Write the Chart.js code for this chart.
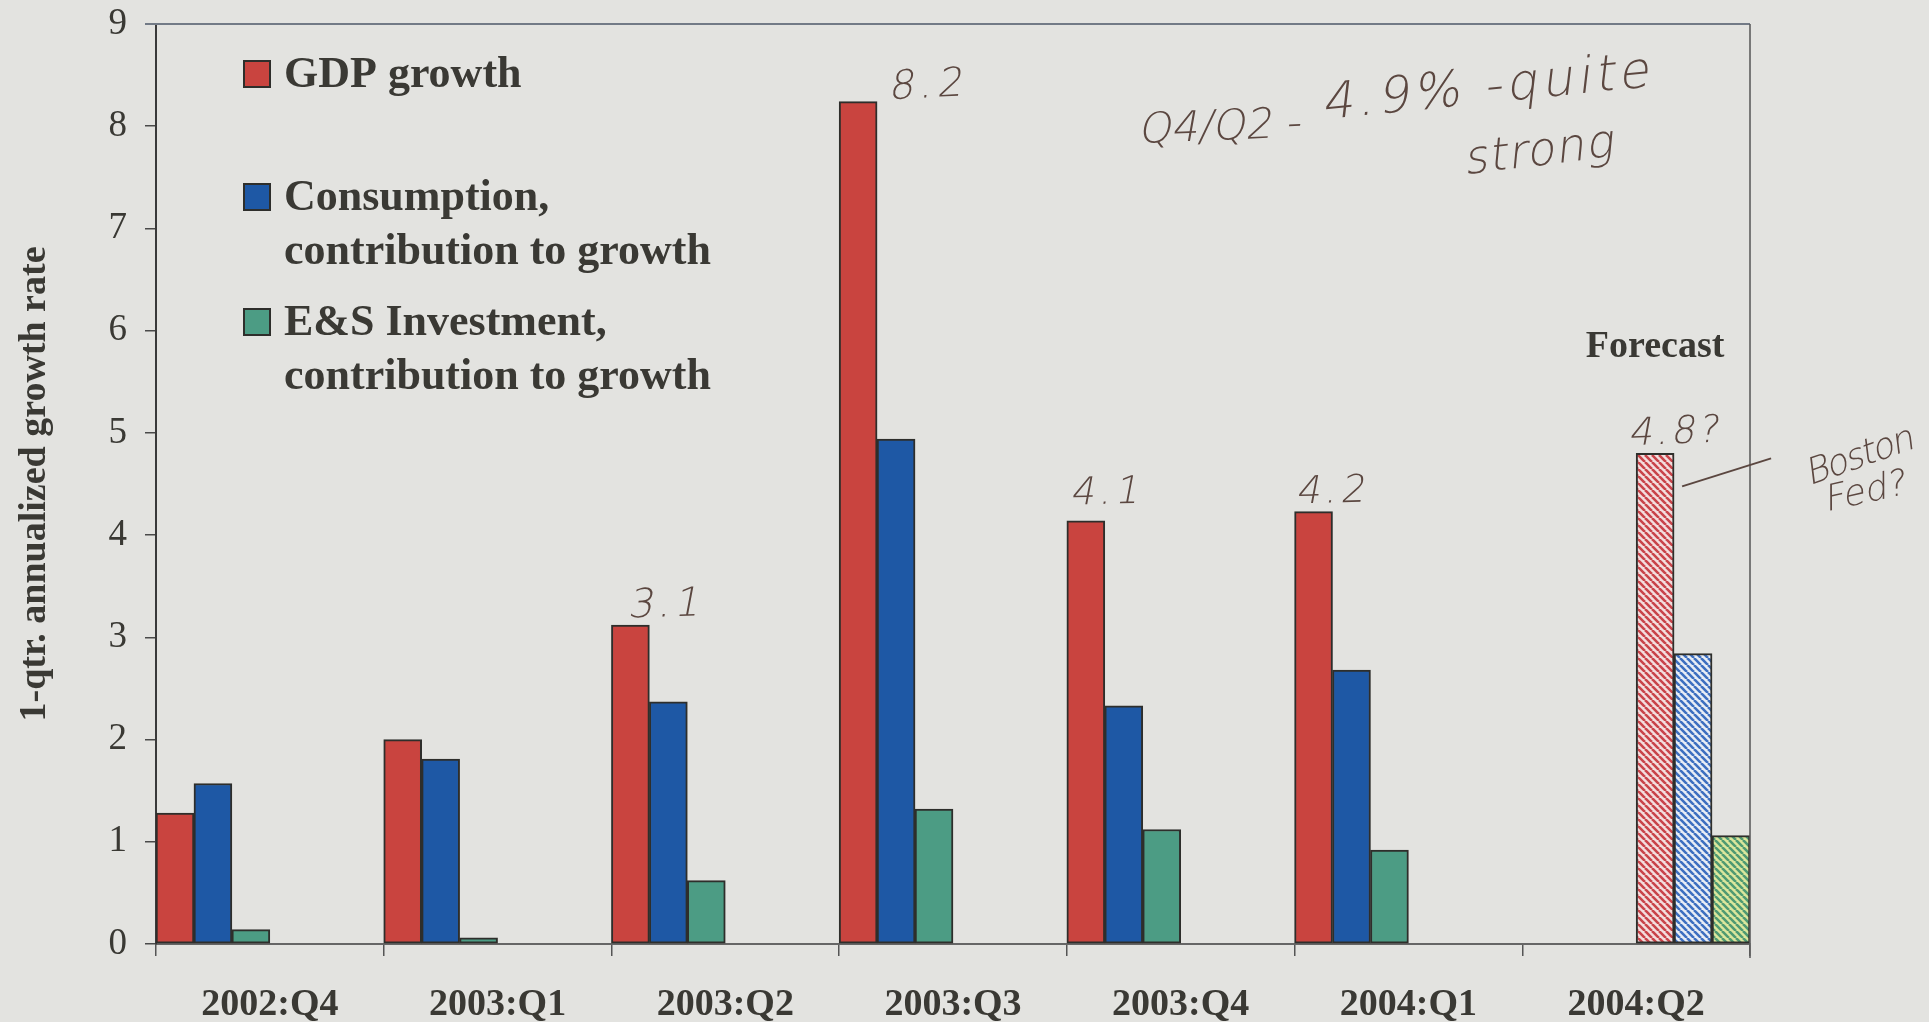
<!DOCTYPE html>
<html>
<head>
<meta charset="utf-8">
<script src="https://cdn.jsdelivr.net/npm/chart.js@4.4.1/dist/chart.umd.min.js"></script>
<style>
  html, body { margin: 0; padding: 0; background: #e3e3e0; overflow: hidden; }
  #wrap { width: 1929px; height: 1022px; position: relative; }
</style>
</head>
<body>
<div id="wrap"><canvas id="c"></canvas></div>
<script>
// ---- data ----
const categories = ['2002:Q4', '2003:Q1', '2003:Q2', '2003:Q3', '2003:Q4', '2004:Q1', '2004:Q2'];
const gdpGrowth               = [1.28, 2.00, 3.12, 8.24, 4.14, 4.23, null];
const consumptionContribution = [1.57, 1.81, 2.37, 4.94, 2.33, 2.68, null];
const investmentContribution  = [0.14, 0.06, 0.62, 1.32, 1.12, 0.92, null];
const gdpForecast             = [null, null, null, null, null, null, 4.80];
const consumptionForecast     = [null, null, null, null, null, null, 2.84];
const investmentForecast      = [null, null, null, null, null, null, 1.06];
const seriesNames = ['GDP growth', 'Consumption, contribution to growth', 'E&S Investment, contribution to growth'];
const yTickValues = [0, 1, 2, 3, 4, 5, 6, 7, 8, 9];
const yAxisTitle = '1-qtr. annualized growth rate';
const forecastLabel = 'Forecast';

// ---- styles ----
const INK = '#3a3934';
const EDGE = '#2e2e2b';
const RED = '#c9443f', BLUE = '#1e58a5', GREEN = '#4c9c84';
const PEN = '#5b4740';
const SERIF = '"Liberation Serif", "Times New Roman", serif';
const HAND = '"DejaVu Sans", sans-serif';

function hatch(bg, fg) {
  const s = 7;
  const c = document.createElement('canvas');
  c.width = s; c.height = s;
  const g = c.getContext('2d');
  g.fillStyle = bg; g.fillRect(0, 0, s, s);
  g.strokeStyle = fg; g.lineWidth = 2.6;
  g.beginPath();
  for (let k = -1; k <= 1; k++) { g.moveTo(k * s, 0); g.lineTo(k * s + s, s); }
  g.stroke();
  return g.createPattern(c, 'repeat');
}

const barBase = { borderColor: EDGE, borderWidth: 2, borderSkipped: false, categoryPercentage: 1, barPercentage: 1 };

const overlay = {
  id: 'overlay',
  afterDraw(chart) {
    const ctx = chart.ctx;
    const a = chart.chartArea;
    ctx.save();
    // frame: top and right lines
    ctx.strokeStyle = '#727a86'; ctx.lineWidth = 2;
    ctx.beginPath(); ctx.moveTo(a.left - 11, a.top); ctx.lineTo(a.right, a.top); ctx.stroke();
    ctx.strokeStyle = '#5e5e5e'; ctx.lineWidth = 1.6;
    ctx.beginPath(); ctx.moveTo(a.right, a.top); ctx.lineTo(a.right, a.bottom + 14); ctx.stroke();

    // legend
    const colors = [RED, BLUE, GREEN];
    const rows = [74, 197, 322];
    ctx.font = 'bold 44px ' + SERIF;
    ctx.textBaseline = 'middle';
    ctx.textAlign = 'left';
    seriesNames.forEach((name, i) => {
      const y = rows[i];
      ctx.fillStyle = colors[i];
      ctx.fillRect(244, y - 13, 26, 26);
      ctx.strokeStyle = EDGE; ctx.lineWidth = 2;
      ctx.strokeRect(244, y - 13, 26, 26);
      const cut = name.indexOf(', ');
      const lines = cut < 0 ? [name] : [name.slice(0, cut + 1), name.slice(cut + 2)];
      ctx.fillStyle = INK;
      lines.forEach((t, j) => ctx.fillText(t, 284, y + 2 + j * 54));
    });

    // Forecast label
    const fBar = chart.getDatasetMeta(3).data[6];
    ctx.font = 'bold 38px ' + SERIF;
    ctx.textAlign = 'center';
    ctx.fillStyle = INK;
    ctx.fillText(forecastLabel, fBar.x, fBar.y - 106);

    // handwritten notes
    ctx.fillStyle = PEN; ctx.strokeStyle = PEN;
    ctx.textAlign = 'left';
    const note = (t, x, y, size, rot, spacing) => {
      ctx.save();
      ctx.translate(x, y);
      if (rot) ctx.rotate(rot);
      ctx.transform(1, 0, -0.22, 1, 0, 0);
      ctx.font = '200 ' + size + 'px ' + HAND;
      ctx.letterSpacing = (spacing || 0) + 'px';
      ctx.fillText(t, 0, 0);
      ctx.restore();
    };
    const bar = (d, i) => chart.getDatasetMeta(d).data[i];
    let b;
    b = bar(0, 3); note('8.2', b.x + b.width / 2 + 13, b.y - 13, 40, -0.05, 5);
    b = bar(0, 2); note('3.1', b.x - b.width / 2 + 18, b.y - 18, 40, -0.03, 4);
    b = bar(0, 4); note('4.1', b.x - b.width / 2 + 5, b.y - 26, 38, -0.03, 4);
    b = bar(0, 5); note('4.2', b.x - b.width / 2 + 3, b.y - 18, 38, -0.03, 4);
    b = bar(3, 6); note('4.8?', b.x - b.width / 2 - 6, b.y - 18, 38, -0.04, 3);
    ctx.lineWidth = 2;
    ctx.beginPath();
    ctx.moveTo(b.x + b.width / 2 + 8, b.y + 33);
    ctx.lineTo(b.x + b.width / 2 + 97, b.y + 5);
    ctx.stroke();
    note('Boston', 1808, 476, 36, -0.34, -2);
    note('Fed?', 1826, 502, 36, -0.22, 0);
    note('Q4/Q2 -', 1140, 132, 42, -0.04, 0);
    note('4.9% -quite', 1324, 106, 50, -0.1, 4);
    note('strong', 1466, 162, 46, -0.12, 1);
    ctx.restore();
  }
};

new Chart(document.getElementById('c'), {
  type: 'bar',
  data: {
    labels: categories,
    datasets: [
      { ...barBase, label: seriesNames[0], data: gdpGrowth, backgroundColor: RED },
      { ...barBase, label: seriesNames[1], data: consumptionContribution, backgroundColor: BLUE },
      { ...barBase, label: seriesNames[2], data: investmentContribution, backgroundColor: GREEN },
      { ...barBase, label: seriesNames[0] + ' (forecast)', data: gdpForecast, backgroundColor: hatch('#f3dede', '#c9444a') },
      { ...barBase, label: seriesNames[1] + ' (forecast)', data: consumptionForecast, backgroundColor: hatch('#e8edf5', '#3d6fc0') },
      { ...barBase, label: seriesNames[2] + ' (forecast)', data: investmentForecast, backgroundColor: hatch('#dbe69c', '#4f9a72') }
    ]
  },
  options: {
    responsive: true,
    maintainAspectRatio: false,
    animation: false,
    layout: { padding: { top: 24, right: 179, bottom: 0, left: 0 } },
    plugins: { legend: { display: false }, tooltip: { enabled: false } },
    scales: {
      x: {
        grid: { drawOnChartArea: false, drawTicks: true, tickLength: 12, color: '#555', lineWidth: 1.5, offset: true },
        border: { display: true, color: '#666', width: 2 },
        ticks: { color: INK, padding: 26, maxRotation: 0, font: { family: SERIF, size: 38, weight: 'bold' } },
        afterFit(axis) { axis.height = 78; axis.paddingLeft = 0; axis.paddingRight = 0; }
      },
      y: {
        min: 0, max: 9,
        afterBuildTicks(axis) { axis.ticks = yTickValues.map(v => ({ value: v })); },
        grid: { drawOnChartArea: false, drawTicks: true, tickLength: 11, color: '#4a4a4a', lineWidth: 1.5 },
        border: { display: true, color: '#3a3a3a', width: 2 },
        ticks: { color: INK, padding: 18, font: { family: SERIF, size: 37 } },
        title: { display: true, text: yAxisTitle, color: INK, padding: { top: 12, bottom: 0 }, font: { family: SERIF, size: 38, weight: 'bold' } },
        afterFit(axis) { axis.width = 156; axis.paddingTop = 0; axis.paddingBottom = 0; }
      }
    }
  },
  plugins: [overlay]
});
</script>
</body>
</html>
